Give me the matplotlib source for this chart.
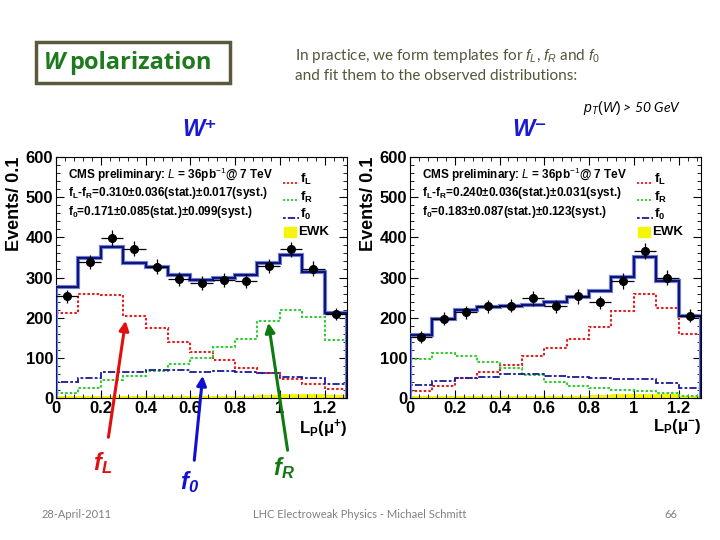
import matplotlib
matplotlib.use("Agg")
import matplotlib.pyplot as plt
from matplotlib.patches import FancyArrowPatch, Rectangle
import numpy as np

# bins of L_P
edges = np.round(np.arange(0, 1.31, 0.1), 2)
centers = edges[:-1] + 0.05

# W+ panel
plus_data = [253, 339, 398, 372, 327, 296, 287, 294, 292, 328, 370, 322, 210]
plus_err = [17, 18, 20, 19, 18, 17, 17, 17, 17, 18, 19, 18, 15]
plus_fit = [276, 349, 376, 336, 325, 307, 295, 299, 307, 335, 357, 314, 212]
plus_fL = [212, 260, 257, 203, 174, 139, 114, 94, 75, 61, 48, 35, 22]
plus_fR = [12, 25, 46, 54, 66, 85, 100, 127, 148, 191, 220, 202, 144]
plus_f0 = [39, 51, 64, 65, 70, 70, 64, 66, 65, 62, 52, 50, 35]
plus_ewk = [5, 5, 5, 5, 5, 5, 5, 5, 6, 8, 10, 9, 8]

# W- panel
minus_data = [152, 197, 213, 228, 230, 248, 228, 253, 238, 291, 366, 300, 205]
minus_err = [14, 16, 17, 17, 17, 18, 17, 18, 17, 19, 21, 19, 16]
minus_fit = [156, 197, 218, 226, 228, 232, 239, 251, 266, 301, 350, 291, 203]
minus_fL = [17, 29, 49, 65, 81, 104, 125, 147, 177, 216, 259, 224, 159]
minus_fR = [97, 111, 104, 89, 74, 57, 40, 29, 25, 21, 17, 12, 5]
minus_f0 = [32, 42, 51, 52, 59, 59, 54, 52, 50, 48, 47, 37, 25]
minus_ewk = [4, 4, 4, 4, 4, 5, 5, 6, 7, 9, 11, 9, 6]

plus_txt = ["f$_\\mathbf{L}$-f$_\\mathbf{R}$=0.310±0.036(stat.)±0.017(syst.)",
            "f$_\\mathbf{0}$=0.171±0.085(stat.)±0.099(syst.)"]
minus_txt = ["f$_\\mathbf{L}$-f$_\\mathbf{R}$=0.240±0.036(stat.)±0.031(syst.)",
             "f$_\\mathbf{0}$=0.183±0.087(stat.)±0.123(syst.)"]

plt.rcParams['font.family'] = ['Liberation Sans', 'DejaVu Sans']
plt.rcParams['mathtext.fontset'] = 'custom'
plt.rcParams['mathtext.rm'] = 'Liberation Sans'
plt.rcParams['mathtext.it'] = 'Liberation Sans:italic'
plt.rcParams['mathtext.bf'] = 'Liberation Sans:bold'
plt.rcParams['mathtext.sf'] = 'Liberation Sans:bold:italic'

fig = plt.figure(figsize=(7.2, 5.4), dpi=100)
W, H = 720., 540.

RED = '#e02020'
GREEN = '#33cc33'
NAVY = '#1a1a99'
DOT = (0, (1.2, 1.0))
DASHDOT = (0, (1.5, 1.2, 4, 1.2))


def panel(left, data, err, fit, fL, fR, f0, ewk, txt, xlab):
    ax = fig.add_axes([left / W, 1 - 398 / H, 291 / W, 241 / H])
    ax.stairs(ewk, edges, fill=True, color='#f5f50a', zorder=1)
    ax.stairs(fL, edges, baseline=None, color=RED, ls=DOT, lw=1.5, zorder=2)
    ax.stairs(fR, edges, baseline=None, color=GREEN, ls=DOT, lw=1.5, zorder=2)
    ax.stairs(f0, edges, baseline=None, color=NAVY, ls=DASHDOT, lw=1.3, zorder=2)
    ax.stairs(fit, edges, baseline=0, color='#6a7fe0', lw=3.0, zorder=3)
    ax.stairs(fit, edges, baseline=0, color='#101070', lw=1.4, zorder=4)
    ax.errorbar(centers, data, yerr=err, xerr=0.05, fmt='o', color='black',
                ms=5.5, elinewidth=0.9, capsize=0, zorder=5)
    ax.set_xlim(0, 1.3)
    ax.set_ylim(0, 600)
    ax.set_xticks([0, 0.2, 0.4, 0.6, 0.8, 1, 1.2])
    ax.set_xticklabels(['0', '0.2', '0.4', '0.6', '0.8', '1', '1.2'])
    ax.set_yticks([0, 100, 200, 300, 400, 500, 600])
    ax.set_xticks(np.arange(0, 1.31, 0.04), minor=True)
    ax.set_yticks(np.arange(0, 601, 20), minor=True)
    ax.tick_params(which='both', direction='in', top=True, right=True)
    ax.tick_params(which='major', length=6, labelsize=12, pad=2)
    ax.tick_params(which='minor', length=3)
    for lab in ax.get_xticklabels() + ax.get_yticklabels():
        lab.set_fontweight('bold')
    ax.set_ylabel('Events/ 0.1', fontsize=13, fontweight='bold', loc='top', labelpad=2)
    ax.text(1.0, -0.08, xlab, transform=ax.transAxes, ha='right', va='top',
            fontsize=12)
    ax.text(0.04, 0.925, 'CMS preliminary: $\\mathit{L}$ = 36pb$^{-1}$@ 7 TeV',
            transform=ax.transAxes, fontsize=8.5, va='center', fontweight='bold')
    ax.text(0.04, 0.85, txt[0], transform=ax.transAxes, fontsize=8.5, va='center',
            fontweight='bold')
    ax.text(0.04, 0.772, txt[1], transform=ax.transAxes, fontsize=8.5, va='center',
            fontweight='bold')
    # legend
    for yy, c, lab, ls in [(0.893, RED, 'f$_\\mathbf{L}$', DOT),
                           (0.82, GREEN, 'f$_\\mathbf{R}$', DOT),
                           (0.748, NAVY, 'f$_\\mathbf{0}$', DASHDOT)]:
        ax.plot([0.78, 0.835], [yy, yy], color=c, ls=ls, lw=1.3, transform=ax.transAxes)
        ax.text(0.84, yy + 0.012, lab, transform=ax.transAxes, fontsize=9.5,
                fontweight='bold', va='center')
    ax.add_patch(Rectangle((0.785, 0.668), 0.04, 0.042, transform=ax.transAxes,
                           color='#f5f50a'))
    ax.text(0.832, 0.689, 'EWK', transform=ax.transAxes, fontsize=9.5,
            fontweight='bold', va='center')
    return ax


panel(56, plus_data, plus_err, plus_fit, plus_fL, plus_fR, plus_f0, plus_ewk,
      plus_txt, '$\\mathbf{L_P(\\mu^{+})}$')
panel(410, minus_data, minus_err, minus_fit, minus_fL, minus_fR, minus_f0, minus_ewk,
      minus_txt, '$\\mathbf{L_P(\\mu^{-})}$')

# slide decorations
box = Rectangle((36 / W, 1 - 83 / H), 194 / W, 41 / H, transform=fig.transFigure,
                fill=False, edgecolor='#5a5a3a', lw=2.5)
fig.add_artist(box)
fig.text(44 / W, 1 - 63 / H, 'W', fontsize=17, color='#1e7a1e', fontweight='bold',
         style='italic', va='center', family=['Open Sans', 'DejaVu Sans'])
fig.text(69 / W, 1 - 63 / H, 'polarization', fontsize=17, color='#1e7a1e',
         fontweight='bold', va='center', family=['Open Sans', 'DejaVu Sans'])
slide_font = ['Lato', 'DejaVu Sans']
fig.text(295 / W, 1 - 56 / H, 'In practice, we form templates for $f_L$, $f_R$ and $f_0$',
         fontsize=11, color='#55553a', va='center', family=slide_font)
fig.text(295 / W, 1 - 76 / H, 'and fit them to the observed distributions:',
         fontsize=11, color='#55553a', va='center', family=slide_font)
fig.text(200 / W, 1 - 130 / H, 'W⁺', fontsize=17, color='#1a1ad0', fontweight='bold',
         style='italic', ha='center', va='center')
fig.text(530 / W, 1 - 130 / H, 'W⁻', fontsize=17, color='#1a1ad0', fontweight='bold',
         style='italic', ha='center', va='center')
fig.text(632 / W, 1 - 108 / H, '$p_T(W)$ > 50 GeV', fontsize=10, ha='center',
         va='center', style='italic', family=slide_font)

# arrows pointing at the templates
for (x0, y0), (x1, y1), c in [((108, 440), (126, 318), '#e01010'),
                              ((194, 463), (203, 373), '#1010d0'),
                              ((288, 453), (268, 320), '#107a10')]:
    fig.add_artist(FancyArrowPatch((x0 / W, 1 - y0 / H), (x1 / W, 1 - y1 / H),
                                   transform=fig.transFigure, arrowstyle='-|>',
                                   mutation_scale=14, lw=2.2, color=c))
fig.text(103 / W, 1 - 463 / H, '$\\mathsf{f_L}$', fontsize=17, color='#e01010',
         ha='center', va='center')
fig.text(190 / W, 1 - 482 / H, '$\\mathsf{f_0}$', fontsize=17, color='#1010d0',
         ha='center', va='center')
fig.text(284 / W, 1 - 468 / H, '$\\mathsf{f_R}$', fontsize=17, color='#107a10',
         ha='center', va='center')

foot = ['Lato', 'DejaVu Sans']
fig.text(77 / W, 1 - 515 / H, '28-April-2011', fontsize=8, color='#808080',
         ha='center', va='center', family=foot)
fig.text(360 / W, 1 - 515 / H, 'LHC Electroweak Physics - Michael Schmitt', fontsize=8,
         color='#808080', ha='center', va='center', family=foot)
fig.text(671 / W, 1 - 515 / H, '66', fontsize=8, color='#808080', ha='center',
         va='center', family=foot)

fig.savefig('out.png', dpi=100)
